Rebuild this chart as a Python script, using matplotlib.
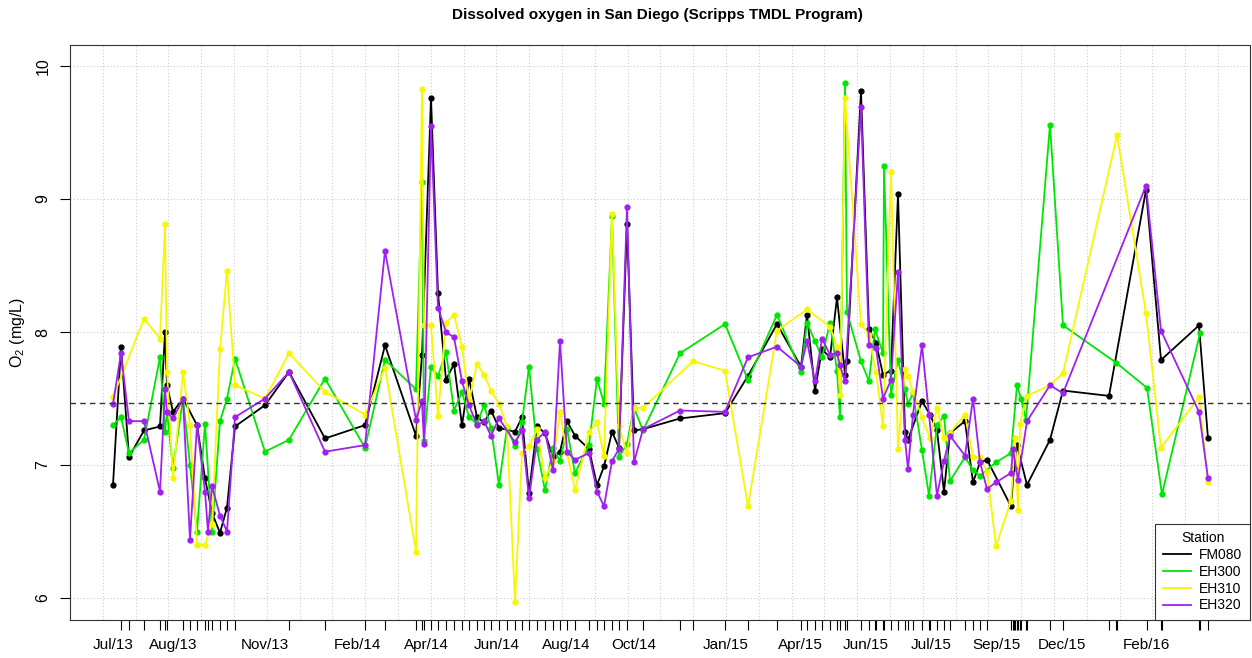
import matplotlib.pyplot as plt
import numpy as np

plt.rcParams['font.family'] = ['Liberation Sans', 'DejaVu Sans']
plt.rcParams['mathtext.fontset'] = 'custom'
plt.rcParams['mathtext.rm'] = 'Liberation Sans'
plt.rcParams['mathtext.default'] = 'regular'

# sampling positions along the (compressed) time axis, and O2 (mg/L) per station
t_fm080 = [113, 121, 129, 144, 160, 165, 167, 173, 183, 197, 205, 212, 220, 227, 235, 265, 289, 325, 365, 385,
           416, 422, 431, 438, 446, 454, 462, 469, 477, 484, 491, 499, 515, 522, 529, 537, 545, 553, 560, 567,
           575, 589, 597, 604, 612, 619, 627, 634, 643, 680, 725, 748, 777, 801, 807, 815, 822, 830, 837, 845,
           847, 861, 869, 876, 883, 891, 898, 905, 908, 922, 930, 937, 944, 950, 965, 973, 980, 987, 1011, 1014,
           1017, 1027, 1050, 1063, 1109, 1146, 1161, 1199, 1208]
o2_fm080 = [6.85, 7.89, 7.06, 7.26, 7.29, 8.00, 7.60, 7.40, 7.50, 7.30, 6.90, 6.64, 6.49, 6.68, 7.29, 7.45, 7.70, 7.20, 7.30, 7.90,
            7.22, 7.83, 9.76, 8.29, 7.64, 7.76, 7.30, 7.65, 7.36, 7.32, 7.41, 7.28, 7.25, 7.36, 6.79, 7.29, 7.24, 7.06, 7.10, 7.33,
            7.22, 7.12, 6.85, 6.99, 7.25, 7.13, 8.81, 7.26, 7.27, 7.35, 7.39, 7.67, 8.06, 7.74, 8.13, 7.56, 7.87, 7.81, 8.26, 7.68,
            7.78, 9.81, 8.02, 7.92, 7.68, 7.71, 9.04, 7.25, 7.19, 7.48, 7.38, 7.26, 6.80, 7.24, 7.33, 6.87, 7.02, 7.04, 6.69, 6.98,
            7.15, 6.85, 7.19, 7.56, 7.52, 9.07, 7.79, 8.05, 7.20]

t_eh300 = [113, 121, 129, 144, 160, 165, 167, 173, 183, 190, 197, 205, 212, 220, 227, 235, 265, 289, 325, 365,
           385, 416, 422, 424, 431, 438, 446, 454, 462, 469, 477, 484, 491, 499, 507, 515, 522, 529, 537, 545,
           553, 560, 567, 575, 589, 597, 604, 612, 619, 627, 634, 643, 680, 725, 748, 777, 801, 807, 815, 822,
           830, 837, 840, 845, 847, 861, 869, 875, 883, 884, 891, 898, 905, 908, 913, 922, 929, 937, 944, 950,
           965, 973, 980, 996, 1011, 1017, 1021, 1026, 1050, 1063, 1116, 1147, 1162, 1200]
o2_eh300 = [7.30, 7.36, 7.09, 7.19, 7.81, 7.25, 7.40, 6.98, 7.50, 7.00, 6.50, 7.31, 6.50, 7.33, 7.50, 7.80, 7.10, 7.19, 7.65, 7.13,
            7.79, 7.57, 9.13, 7.18, 7.74, 7.67, 7.85, 7.41, 7.55, 7.36, 7.31, 7.45, 7.28, 6.85, 7.28, 7.14, 7.32, 7.74, 7.12, 6.81,
            7.13, 7.03, 7.27, 6.94, 7.15, 7.65, 7.46, 8.87, 7.06, 7.16, 7.43, 7.26, 7.84, 8.06, 7.64, 8.13, 7.70, 8.07, 7.93, 7.81,
            8.07, 7.71, 7.36, 9.87, 8.15, 7.78, 7.63, 8.02, 7.84, 9.25, 7.53, 7.79, 7.57, 7.46, 7.54, 7.11, 6.77, 7.30, 7.37, 6.88,
            7.06, 6.96, 6.92, 7.02, 7.09, 7.60, 7.50, 7.34, 9.56, 8.05, 7.77, 7.58, 6.78, 7.99]

t_eh310 = [113, 144, 160, 165, 167, 173, 183, 190, 197, 205, 212, 220, 227, 235, 265, 289, 325, 365, 385, 416,
           422, 424, 431, 438, 446, 454, 462, 469, 477, 484, 491, 499, 507, 515, 522, 529, 537, 545, 553, 560,
           567, 575, 589, 597, 604, 612, 619, 627, 634, 643, 693, 725, 748, 777, 807, 830, 837, 840, 845, 861,
           869, 876, 883, 891, 898, 905, 908, 913, 922, 930, 937, 944, 950, 965, 973, 980, 987, 996, 1011, 1015,
           1018, 1020, 1027, 1050, 1063, 1117, 1146, 1161, 1199, 1208]
o2_eh310 = [7.51, 8.10, 7.95, 8.81, 7.70, 6.90, 7.70, 7.30, 6.40, 6.40, 6.56, 7.87, 8.46, 7.60, 7.50, 7.84, 7.55, 7.38, 7.73, 6.35,
            9.83, 8.05, 8.05, 7.37, 8.07, 8.13, 7.89, 7.48, 7.76, 7.68, 7.56, 7.46, 7.29, 5.97, 7.09, 7.14, 7.27, 6.90, 7.03, 7.40,
            7.09, 6.81, 7.25, 7.32, 7.07, 8.89, 7.29, 7.09, 7.43, 7.43, 7.78, 7.71, 6.69, 8.01, 8.17, 8.04, 7.89, 7.53, 9.76, 8.06,
            7.98, 7.70, 7.29, 9.20, 7.12, 7.72, 7.67, 7.55, 7.36, 7.20, 7.43, 7.20, 7.24, 7.38, 7.06, 7.06, 6.95, 6.39, 6.73, 7.20,
            6.66, 7.31, 7.52, 7.60, 7.69, 9.48, 8.14, 7.13, 7.51, 6.87]

t_eh320 = [113, 121, 129, 144, 160, 165, 167, 173, 183, 190, 197, 205, 208, 212, 220, 227, 235, 265, 289, 325,
           365, 385, 416, 422, 424, 431, 438, 446, 454, 462, 469, 477, 484, 491, 499, 515, 522, 529, 537, 545,
           553, 560, 567, 575, 589, 597, 604, 612, 619, 627, 634, 643, 680, 725, 748, 777, 801, 807, 815, 822,
           830, 837, 840, 845, 861, 869, 876, 883, 891, 898, 905, 908, 913, 922, 929, 937, 944, 950, 965, 973,
           980, 987, 996, 1011, 1013, 1018, 1027, 1050, 1063, 1146, 1161, 1199, 1208]
o2_eh320 = [7.46, 7.84, 7.33, 7.33, 6.80, 7.57, 7.40, 7.35, 7.50, 6.44, 7.30, 6.80, 6.50, 6.84, 6.62, 6.50, 7.36, 7.50, 7.70, 7.10,
            7.15, 8.61, 7.34, 7.48, 7.16, 9.55, 8.18, 8.00, 7.96, 7.63, 7.45, 7.30, 7.33, 7.22, 7.35, 7.17, 7.26, 6.75, 7.19, 7.25,
            6.96, 7.93, 7.10, 7.04, 7.09, 6.80, 6.69, 7.03, 7.12, 8.94, 7.02, 7.27, 7.41, 7.40, 7.81, 7.89, 7.74, 7.93, 7.63, 7.95,
            7.83, 7.84, 7.75, 7.63, 9.69, 7.90, 7.88, 7.50, 7.64, 8.45, 7.19, 6.97, 7.38, 7.90, 7.38, 6.77, 7.03, 7.22, 7.07, 7.50,
            7.02, 6.82, 6.87, 6.94, 7.12, 6.89, 7.33, 7.60, 7.54, 9.10, 8.01, 7.40, 6.90]

stations = ['FM080', 'EH300', 'EH310', 'EH320']
colors = ['black', '#00E600', '#F7F700', '#A020F0']
mean_o2 = 7.466  # overall mean (dashed line)

month_pos = [113, 173, 265, 357, 426, 497, 566, 634, 726, 800, 866, 931, 996, 1062, 1146]
month_labels = ['Jul/13', 'Aug/13', 'Nov/13', 'Feb/14', 'Apr/14', 'Jun/14', 'Aug/14', 'Oct/14',
                'Jan/15', 'Apr/15', 'Jun/15', 'Jul/15', 'Sep/15', 'Dec/15', 'Feb/16']

fig = plt.figure(figsize=(12.52, 6.58), dpi=100)
ax = fig.add_axes([70/1252, 1 - 620/658, 1180/1252, 575/658])

# grid
for gx in np.arange(70 + 32.8, 1250, 32.8):
    ax.axvline(gx, color='#cccccc', lw=0.8, ls=(0, (1, 2)), zorder=0)
for gy in [6, 7, 8, 9, 10]:
    ax.axhline(gy, color='#cccccc', lw=0.8, ls=(0, (1, 2)), zorder=0)

series = [(t_fm080, o2_fm080), (t_eh300, o2_eh300), (t_eh310, o2_eh310), (t_eh320, o2_eh320)]
for (t, v), c, name in zip(series, colors, stations):
    ax.plot(t, v, color=c, lw=1.3, marker='o', ms=3.5, label=name, zorder=2)

ax.axhline(mean_o2, color='#333333', lw=1, ls=(0, (4, 3)), zorder=3)

ax.set_xlim(70, 1250)
ax.set_ylim(5.835, 10.158)

# month labels (no tick mark) and sample ticks
ax.set_xticks(month_pos)
ax.set_xticklabels(month_labels, fontsize=11)
ax.tick_params(axis='x', which='major', length=0, pad=13)
all_t = sorted(set(t_fm080) | set(t_eh300) | set(t_eh310) | set(t_eh320))
ax.set_xticks(all_t, minor=True)
ax.tick_params(axis='x', which='minor', length=7, width=0.8, direction='out')

ax.set_yticks([6, 7, 8, 9, 10])
ax.set_yticklabels(['6', '7', '8', '9', '10'], rotation=90, va='center', fontsize=11.5)
ax.tick_params(axis='y', length=7, width=0.8, pad=7)
ax.set_ylabel('O$_2$ (mg/L)', fontsize=11.5, labelpad=6)

for s in ax.spines.values():
    s.set_color('#333333')
    s.set_linewidth(0.8)

fig.text(657/1252, 1 - 15/658, 'Dissolved oxygen in San Diego (Scripps TMDL Program)',
         ha='center', va='center', fontsize=11, fontweight='bold')

leg = ax.legend(loc='lower right', title='Station', fontsize=10, title_fontsize=10,
                frameon=True, fancybox=False, edgecolor='#333333', framealpha=1,
                borderaxespad=0, handlelength=2.0, handletextpad=0.6, labelspacing=0.2,
                borderpad=0.55)
leg.get_frame().set_linewidth(0.8)
for h in leg.legend_handles:
    h.set_marker('')

fig.savefig('out.png', dpi=100)
